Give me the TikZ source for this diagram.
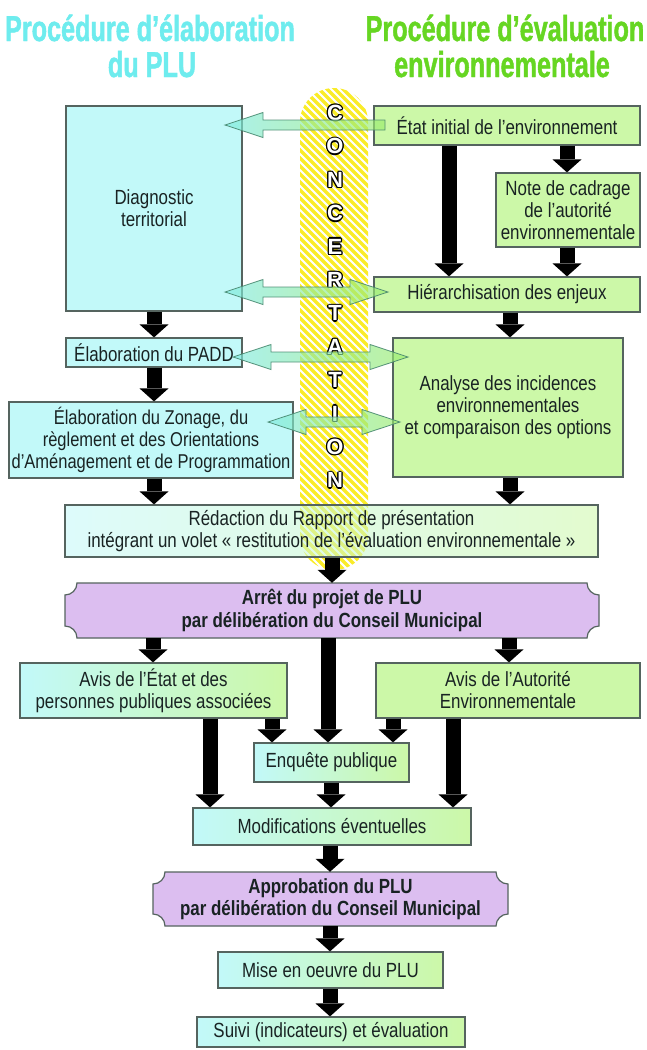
\documentclass[tikz,border=0pt]{standalone}
\usepackage{fontspec}
\setmainfont[FakeStretch=0.825]{Liberation Sans}
\newfontfamily\hdfont[FakeStretch=0.7,FakeBold=1.2]{Liberation Sans}
\newfontfamily\letfont{Liberation Sans}
\usetikzlibrary{arrows.meta,calc}

\definecolor{cyanbox}{RGB}{194,249,249}
\definecolor{greenbox}{RGB}{204,248,168}
\definecolor{purplebox}{RGB}{220,190,240}
\definecolor{boxline}{RGB}{85,100,95}
\definecolor{txt}{RGB}{25,35,35}
\definecolor{hdcyan}{RGB}{110,236,238}
\definecolor{hdgreen}{RGB}{102,214,34}
\definecolor{bandyellow}{RGB}{250,236,40}
\definecolor{arrcyan}{RGB}{125,235,225}
\definecolor{arrgreen}{RGB}{155,236,105}
\definecolor{arrline}{RGB}{70,135,110}

\newcommand\oc[3]{\rlap{\kern#1\raise#2\hbox{\textcolor{black}{#3}}}}
\newcommand\oletter[1]{\oc{1.3pt}{0pt}{#1}\oc{-1.3pt}{0pt}{#1}\oc{0pt}{1.3pt}{#1}\oc{0pt}{-1.3pt}{#1}\oc{0.92pt}{0.92pt}{#1}\oc{-0.92pt}{0.92pt}{#1}\oc{0.92pt}{-0.92pt}{#1}\oc{-0.92pt}{-0.92pt}{#1}\textcolor{white}{#1}}

\newcommand\plaquebox[4]{%
\draw[draw=boxline, line width=1.2pt, fill=purplebox]
 (#1+12,#2) -- (#3-12,#2) .. controls (#3-12,#2+6.6) and (#3-6.6,#2+12) .. (#3,#2+12)
 -- (#3,#4-12) .. controls (#3-6.6,#4-12) and (#3-12,#4-6.6) .. (#3-12,#4)
 -- (#1+12,#4) .. controls (#1+12,#4-6.6) and (#1+6.6,#4-12) .. (#1,#4-12)
 -- (#1,#2+12) .. controls (#1+6.6,#2+12) and (#1+12,#2+6.6) .. (#1+12,#2) -- cycle;}

\begin{document}
\begin{tikzpicture}[x=1pt,y=-1pt,
 box/.style={draw=boxline, line width=1.2pt, inner sep=1pt, align=center, text=txt, font=\fontsize{20.5}{22}\selectfont},
 cbox/.style={box, fill=cyanbox},
 gbox/.style={box, fill=greenbox},
 mbox/.style={box, left color=cyanbox, right color=greenbox},
 pbox/.style={align=center, text=txt, inner sep=0pt, font=\fontsize{20.5}{22.5}\selectfont\bfseries},
 hd/.style={anchor=base, inner sep=0pt, font=\hdfont\bfseries\fontsize{36}{38}\selectfont},
 letter/.style={inner sep=0pt, font=\letfont\bfseries\fontsize{22}{22}\selectfont},
 blk/.style={draw=black, line width=15pt, -{Triangle[width=29pt,length=13pt,line width=0pt]}},
 garrow/.style={left color=arrcyan, right color=arrgreen, draw=arrline, line width=0.8pt, fill opacity=0.65, draw opacity=0.9},
 dbl/.style={garrow, to path={let \p1=(\tikztostart), \p2=(\tikztotarget) in
   (\x1,\y1) -- (\x1+38pt,\y1+12.5pt) -- (\x1+38pt,\y1+5pt) -- (\x2-38pt,\y2+5pt) -- (\x2-38pt,\y2+12.5pt)
   -- (\x2,\y2) -- (\x2-38pt,\y2-12.5pt) -- (\x2-38pt,\y2-5pt) -- (\x1+38pt,\y1-5pt) -- (\x1+38pt,\y1-12.5pt) -- cycle}},
 sgl/.style={garrow, to path={let \p1=(\tikztostart), \p2=(\tikztotarget) in
   (\x2,\y2) -- (\x2+38pt,\y2+12.5pt) -- (\x2+38pt,\y2+5pt) -- (\x1,\y1+5pt) -- (\x1,\y1-5pt)
   -- (\x2+38pt,\y2-5pt) -- (\x2+38pt,\y2-12.5pt) -- cycle}}
]
\useasboundingbox (0,0) rectangle (646,1050);
\fill[white] (0,0) rectangle (646,1050);

% headers
\node[hd, text=hdcyan] (h1) at (150,41) {Procédure d’élaboration};
\node[hd, text=hdcyan] (h2) at (152,77) {du PLU};
\node[hd, text=hdgreen] (h3) at (505,41) {Procédure d’évaluation};
\node[hd, text=hdgreen] (h4) at (502,77) {environnementale};

% purple plaques
\plaquebox{65}{583}{599}{638}
\plaquebox{153}{872}{508}{926}

% boxes
\node[cbox, minimum width=176, minimum height=205] (diag) at (154,208.5) {Diagnostic\\territorial};
\node[cbox, minimum width=176, minimum height=29] (padd) at (154,352.5) {Élaboration du PADD};
\node[cbox, minimum width=284, minimum height=76, font=\fontsize{20}{22}\selectfont] (zonage) at (151,440) {Élaboration du Zonage, du\\règlement et des Orientations\\d'Aménagement et de Programmation};
\node[gbox, minimum width=266, minimum height=39] (etat) at (507,125.5) {État initial de l’environnement};
\node[gbox, minimum width=144, minimum height=74] (note) at (568,210) {Note de cadrage\\de l’autorité\\environnementale};
\node[gbox, minimum width=266, minimum height=35] (hier) at (507,294.5) {Hiérarchisation des enjeux};
\node[gbox, minimum width=230, minimum height=139] (analyse) at (508,407.5) {Analyse des incidences\\environnementales\\et comparaison des options};
\node[pbox, minimum width=534, minimum height=55] (arret) at (332,610.5) {Arrêt du projet de PLU\\par délibération du Conseil Municipal};
\node[mbox, minimum width=267, minimum height=55] (avisE) at (153.5,690.5) {Avis de l’État et des\\personnes publiques associées};
\node[gbox, minimum width=264, minimum height=55] (avisA) at (508,690.5) {Avis de l’Autorité\\Environnementale};
\node[mbox, minimum width=155, minimum height=39] (enq) at (331.5,762.5) {Enquête publique};
\node[mbox, minimum width=278, minimum height=37] (modif) at (332,826.5) {Modifications éventuelles};
\node[pbox, minimum width=355, minimum height=54] (approb) at (330.5,899) {Approbation du PLU\\par délibération du Conseil Municipal};
\node[mbox, minimum width=225, minimum height=36] (mise) at (330.5,970) {Mise en oeuvre du PLU};
\node[mbox, minimum width=268, minimum height=30] (suivi) at (331,1032) {Suivi (indicateurs) et évaluation};

% concertation band
\begin{scope}
\clip[rounded corners=34pt] (300,88) rectangle (368,570);
\foreach \k in {0,...,76} \draw[bandyellow, line width=3.2pt] ({\k*8-210},80) -- ++(500,500);
\end{scope}

% report box over the band
\node[mbox, fill opacity=0.55, text opacity=1, minimum width=533, minimum height=52] (redac) at (331.5,531) {Rédaction du Rapport de présentation\\intégrant un volet « restitution de l'évaluation environnementale »};

% letters
\foreach \ch [count=\i from 0] in {C,O,N,C,E,R,T,A,T,I,O,N}
  \node[letter] (c\i) at (335,{113+33.4*\i}) {\oletter{\ch}};

% concertation arrows
\coordinate (a1tail) at (385,125);
\coordinate (a1tip) at (225,125);
\coordinate (a2l) at (225,292);
\coordinate (a2r) at (388,292);
\coordinate (a3l) at (233,357);
\coordinate (a3r) at (408,357);
\coordinate (a4l) at (268,422);
\coordinate (a4r) at (400,422);
\draw[sgl] (a1tail) to (a1tip);
\draw[dbl] (a2l) to (a2r);
\draw[dbl] (a3l) to (a3r);
\draw[dbl] (a4l) to (a4r);

% black flow arrows
\draw[blk] (diag.south) -- (padd.north);
\draw[blk] (padd.south) -- (zonage.north -| padd.south);
\draw[blk] (zonage.south -| padd.south) -- (redac.north -| padd.south);
\draw[blk] (449,0 |- etat.south) -- (449,0 |- hier.north);
\draw[blk] (567,0 |- etat.south) -- (567,0 |- note.north);
\draw[blk] (567,0 |- note.south) -- (567,0 |- hier.north);
\draw[blk] (510,0 |- hier.south) -- (510,0 |- analyse.north);
\draw[blk] (510,0 |- analyse.south) -- (510,0 |- redac.north);
\draw[blk] (332,0 |- redac.south) -- (332,0 |- arret.north);
\draw[blk] (153,0 |- arret.south) -- (153,0 |- avisE.north);
\draw[blk] (328,0 |- arret.south) -- (328,0 |- enq.north);
\draw[blk] (509,0 |- arret.south) -- (509,0 |- avisA.north);
\draw[blk] (272,0 |- avisE.south) -- (272,0 |- enq.north);
\draw[blk] (210,0 |- avisE.south) -- (210,0 |- modif.north);
\draw[blk] (393,0 |- avisA.south) -- (393,0 |- enq.north);
\draw[blk] (453,0 |- avisA.south) -- (453,0 |- modif.north);
\draw[blk] (331,0 |- enq.south) -- (331,0 |- modif.north);
\draw[blk] (330,0 |- modif.south) -- (330,0 |- approb.north);
\draw[blk] (330,0 |- approb.south) -- (330,0 |- mise.north);
\draw[blk] (330,0 |- mise.south) -- (330,0 |- suivi.north);
\end{tikzpicture}
\end{document}
